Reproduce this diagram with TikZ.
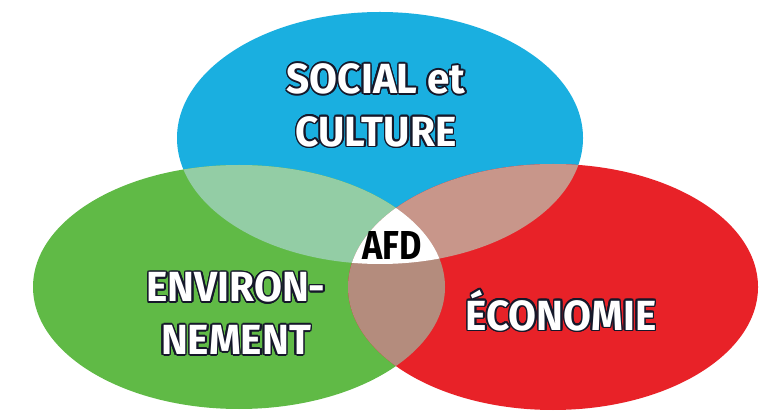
\documentclass[tikz,border=0pt]{standalone}
\usepackage{fontspec}
\usepackage{contour}
\newfontfamily\lblfont[FakeStretch=0.85]{Fira Sans}
\newfontfamily\widelblfont[FakeStretch=0.96]{Fira Sans}
\contourlength{0.9pt}
\definecolor{socblue}{HTML}{1AAFE0}
\definecolor{envgreen}{HTML}{60BA46}
\definecolor{ecored}{HTML}{E82228}
\definecolor{bluegreen}{HTML}{93CDA5}
\definecolor{bluered}{HTML}{C8968A}
\definecolor{greenred}{HTML}{B48C7D}
\definecolor{inkline}{HTML}{15182A}
\tikzset{
    lbl/.style={font=\lblfont\bfseries\fontsize{23}{30}\selectfont, align=center, inner sep=0pt},
    biglbl/.style={lbl, font=\widelblfont\bfseries\fontsize{24}{30}\selectfont},
}
\newcommand{\outl}[1]{\contour{inkline}{\textcolor{white}{#1}}}

\begin{document}
\begin{tikzpicture}[x=0.02cm, y=0.02cm]
    \useasboundingbox (0, 0) rectangle (766, 412);
    \fill[white] (0, 0) rectangle (766, 412);

    \def\socell{(380, 274) ellipse [x radius=203, y radius=126]}
    \def\envell{(239, 125) ellipse [x radius=206, y radius=122]}
    \def\ecoell{(553, 125) ellipse [x radius=205, y radius=123]}

    \fill[socblue] \socell;
    \fill[envgreen] \envell;
    \fill[ecored] \ecoell;

    % overlaps
    \begin{scope}
        \clip \socell;
        \fill[bluegreen] \envell;
        \fill[bluered] \ecoell;
    \end{scope}
    \begin{scope}
        \clip \envell;
        \fill[greenred] \ecoell;
        \clip \ecoell;
        \fill[white] \socell;
    \end{scope}

    \node[biglbl] (soc) at (376, 306) {\outl{SOCIAL et}\\\outl{CULTURE}};
    \node[biglbl] (env) at (236, 98) {\outl{ENVIRON-}\\\outl{NEMENT}};
    \node[biglbl] (eco) at (561, 101) {\outl{ÉCONOMIE}};
    \node[lbl] (afd) at (392, 167) {AFD};
\end{tikzpicture}
\end{document}
